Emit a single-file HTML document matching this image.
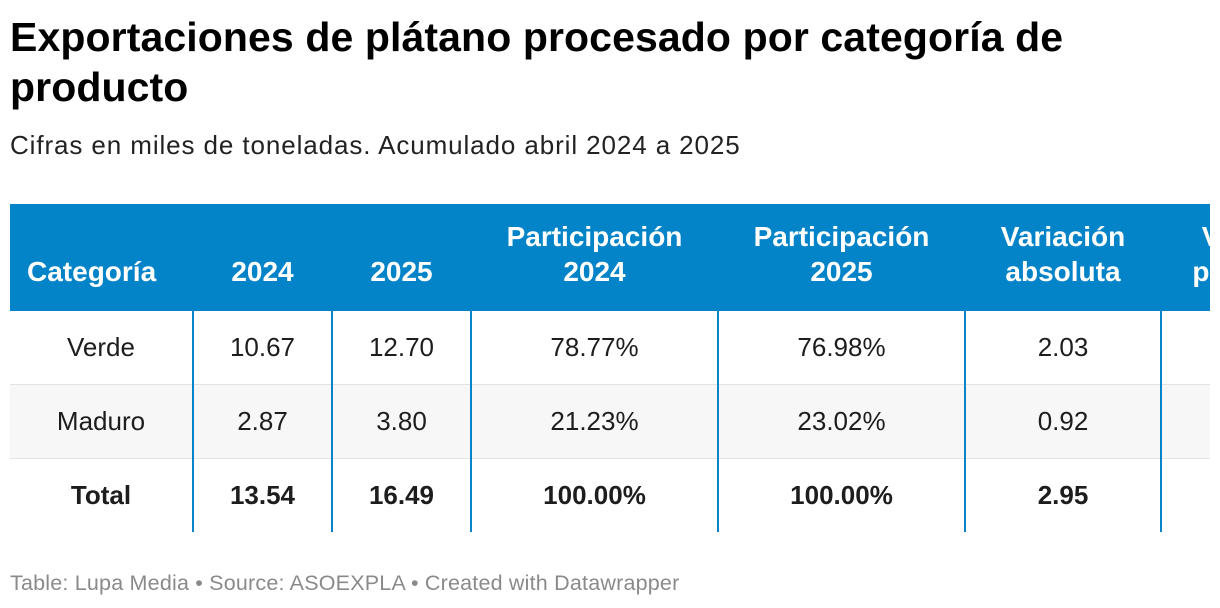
<!DOCTYPE html>
<html><head><meta charset="utf-8">
<style>
body{margin:0;width:1220px;height:608px;background:#fff;font-family:"Liberation Sans",Arial,sans-serif;overflow:hidden;position:relative;color:#1d1d1d}
#title{position:absolute;left:10px;top:12px;font-size:41px;font-weight:bold;line-height:50px;color:#000;letter-spacing:0.1px;margin:0}
#subtitle{position:absolute;left:10px;top:130px;font-size:26px;color:#222;letter-spacing:0.9px}
#wrap{position:absolute;left:10px;top:204px;width:1200px;height:330px;overflow:hidden}
table{border-collapse:collapse;table-layout:fixed;width:1357px;font-size:26px}
th{background:#0384c8;color:#fff;font-weight:bold;height:85px;vertical-align:bottom;padding:0 0 22px 0;line-height:35px;font-size:28px}
td{text-align:center;height:73px;padding:0;border-left:2px solid #0a84c8;border-bottom:1px solid #e3e3e3}
td:first-child{border-left:none}
tr.alt td{background:#f7f7f7}
tr.tot td{font-weight:bold;border-bottom:none}
#footer{position:absolute;left:10px;top:571px;font-size:21.5px;color:#8a8a8a;letter-spacing:0.2px}
</style></head><body>
<h1 id="title">Exportaciones de plátano procesado por categoría de<br>producto</h1>
<div id="subtitle">Cifras en miles de toneladas. Acumulado abril 2024 a 2025</div>
<div id="wrap">
<table>
<colgroup><col style="width:183px"><col style="width:139px"><col style="width:139px"><col style="width:247px"><col style="width:247px"><col style="width:196px"><col style="width:206px"></colgroup>
<tr>
<th style="text-align:left;padding-left:17px">Categoría</th>
<th>2024</th>
<th>2025</th>
<th>Participación<br>2024</th>
<th>Participación<br>2025</th>
<th>Variación<br>absoluta</th>
<th>Variación<br>porcentual</th>
</tr>
<tr>
<td>Verde</td><td>10.67</td><td>12.70</td><td>78.77%</td><td>76.98%</td><td>2.03</td><td>19.03%</td>
</tr>
<tr class="alt">
<td>Maduro</td><td>2.87</td><td>3.80</td><td>21.23%</td><td>23.02%</td><td>0.92</td><td>32.06%</td>
</tr>
<tr class="tot">
<td>Total</td><td>13.54</td><td>16.49</td><td>100.00%</td><td>100.00%</td><td>2.95</td><td>21.79%</td>
</tr>
</table>
</div>
<div id="footer">Table: Lupa Media • Source: ASOEXPLA • Created with Datawrapper</div>
</body></html>
